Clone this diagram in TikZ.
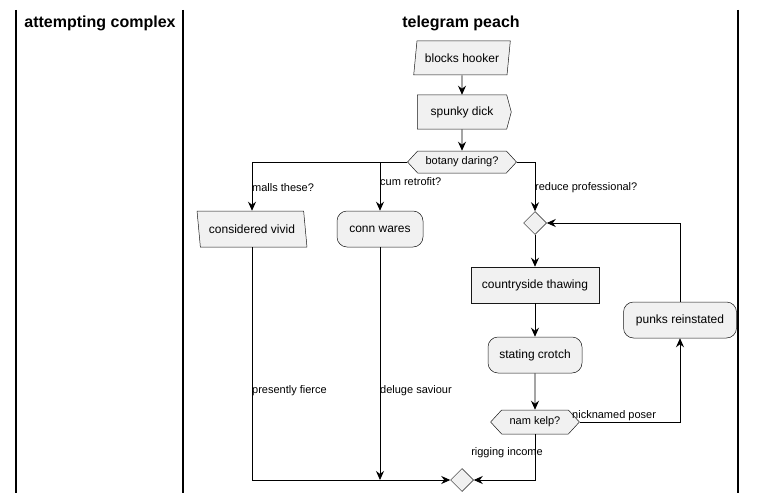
\documentclass[tikz,border=0pt]{standalone}
\usepackage{fontspec}
\setmainfont{Liberation Sans}
\usetikzlibrary{shapes.geometric,shapes.symbols,arrows.meta}

\definecolor{actfill}{HTML}{F1F1F1}
\definecolor{actline}{HTML}{181818}

\tikzset{
    act/.style={draw=actline, fill=actfill, line width=0.5pt, minimum height=36pt, inner xsep=8pt, font=\fontsize{12}{14}\selectfont},
    rnd/.style={act, rounded corners=10pt},
    inright/.style={act, trapezium, trapezium stretches=true, trapezium left angle=78, trapezium right angle=102, minimum height=34pt},
    inleft/.style={act, trapezium, trapezium stretches=true, trapezium left angle=102, trapezium right angle=78},
    flag/.style={act, signal, signal to=east, signal pointer angle=150, minimum height=34pt},
    hexa/.style={act, signal, signal to=west and east, signal pointer angle=95, minimum height=22pt, font=\fontsize{11}{13}\selectfont},
    merge/.style={draw=actline, fill=actfill, line width=0.5pt, diamond, minimum size=23pt, inner sep=0pt},
    lbl/.style={font=\fontsize{11}{13}\selectfont, inner sep=0pt},
    lane/.style={line width=1.2pt},
    title/.style={font=\fontsize{16}{18}\selectfont\bfseries},
    flow/.style={->, line width=0.8pt, >={Stealth[length=9pt,width=8pt,inset=3pt]}}
}

\begin{document}
\begin{tikzpicture}[x=1pt, y=-1pt]
    \useasboundingbox (0,0) rectangle (758,503);
    % swimlanes
    \draw[lane] (16,10) -- (16,493);
    \draw[lane] (183,10) -- (183,493);
    \draw[lane] (738,10) -- (738,493);
    \node[title] at (100,23) (tattempt) {attempting complex};
    \node[title] at (461,23) (ttelegram) {telegram peach};

    % activities
    \node[inright, minimum width=96pt] at (462,58) (hooker) {blocks hooker};
    \node[flag, minimum width=94pt] at (462,112) (spunky) {spunky dick};
    \node[hexa, minimum width=95pt] at (462,162) (botany) {botany daring?};
    \node[inleft, minimum width=110pt] at (252,229) (vivid) {considered vivid};
    \node[rnd, minimum width=86pt] at (380,229) (conn) {conn wares};
    \node[merge] at (535,223) (merge1) {};
    \node[act, minimum width=128pt] at (535,285) (thaw) {countryside thawing};
    \node[rnd, minimum width=94pt] at (535,355) (crotch) {stating crotch};
    \node[rnd, minimum width=113pt] at (680,320) (punks) {punks reinstated};
    \node[hexa, minimum width=72pt, minimum height=24pt] at (535,422) (kelp) {nam kelp?};
    \node[merge] at (462,480) (merge2) {};
    \coordinate (connend) at (380,480);

    % labels
    \node[lbl, anchor=west] at (252,188) (lmalls) {malls these?};
    \node[lbl, anchor=west] at (380,182) (lcum) {cum retrofit?};
    \node[lbl, anchor=west] at (535,188) (lreduce) {reduce professional?};
    \node[lbl, anchor=west] at (252,391) (lpresently) {presently fierce};
    \node[lbl, anchor=west] at (380,391) (ldeluge) {deluge saviour};
    \node[lbl, anchor=west] at (572,416) (lnick) {nicknamed poser};
    \node[lbl, anchor=east] at (543,453) (lrigging) {rigging income};

    % connectors
    \draw[flow] (hooker) -- (spunky);
    \draw[flow] (spunky) -- (botany);
    \draw[flow] (botany.west) -| (vivid.north);
    \draw[flow] (botany.west) -| (conn.north);
    \draw[flow] (botany.east) -| (merge1.north);
    \draw[flow] (merge1) -- (thaw);
    \draw[flow] (thaw) -- (crotch);
    \draw[flow] (crotch) -- (kelp);
    \draw[flow] (kelp.east) -| (punks.south);
    \draw[flow] (punks.north) |- (merge1.east);
    \draw[flow] (kelp.south) |- (merge2.east);
    \draw[flow] (vivid.south) |- (merge2.west);
    \draw[flow] (conn.south) -- (connend);
\end{tikzpicture}
\end{document}
